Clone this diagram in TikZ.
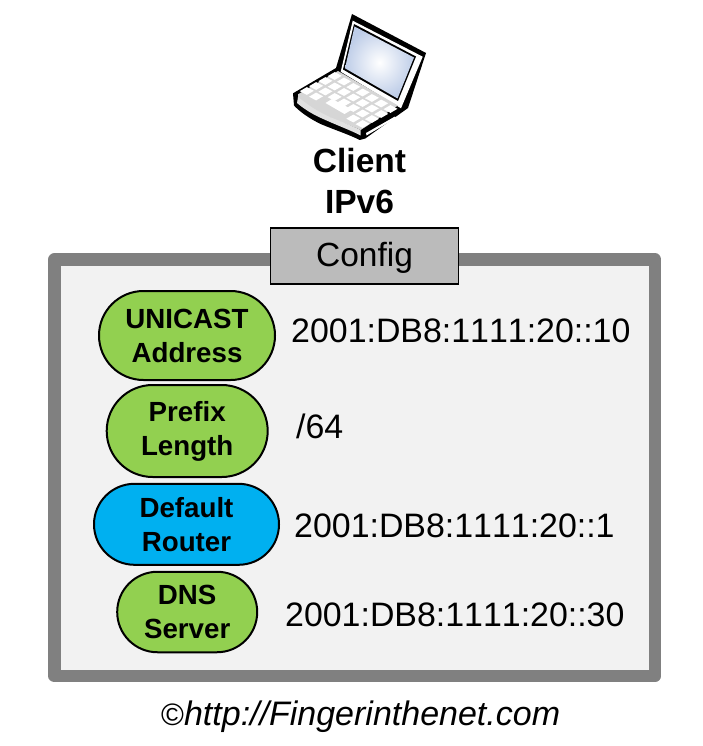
\documentclass[tikz,border=0pt]{standalone}
\usepackage{fontspec}
\setmainfont[Kerning=Off]{Liberation Sans}
\usetikzlibrary{shapes.misc}
\definecolor{framegray}{RGB}{128,128,128}
\definecolor{panelgray}{RGB}{242,242,242}
\definecolor{tabgray}{RGB}{187,187,187}
\definecolor{pillgreen}{RGB}{146,208,80}
\definecolor{pillblue}{RGB}{0,176,240}
\definecolor{screenblue}{RGB}{190,205,232}
\definecolor{deckgray}{RGB}{214,214,214}
\definecolor{lipgray}{RGB}{225,225,225}
\tikzset{
  x=1pt,y=-1pt,
  pill/.style={draw=black,line width=2pt,rounded rectangle,align=center,font=\fontsize{27.7}{34}\selectfont\bfseries,inner sep=0pt},
  val/.style={anchor=base west,font=\fontsize{33.9}{40}\selectfont,inner sep=0pt},
  title/.style={align=center,font=\fontsize{33.5}{41}\selectfont\bfseries,inner sep=0pt},
  keycap/.style={fill=white,draw=none},
}
\begin{document}
\begin{tikzpicture}
\useasboundingbox (0,0) rectangle (702,746);
% frame
\node[draw=framegray,fill=panelgray,line width=12.5pt,line join=round,minimum width=600.5pt,minimum height=416.5pt,inner sep=0pt] (frame) at (354.75,467.75) {};
% tab
\node[draw=black,fill=tabgray,line width=1.5pt,minimum width=188pt,minimum height=56pt,inner sep=0pt,text height=24pt,text depth=3pt,font=\fontsize{33.5}{40}\selectfont] (tab) at (364.5,255.8) {Config};
% laptop: body
\fill[black,line join=round] (352,14) -- (426,53) -- (408,108) -- (365.3,138.5) -- (359.7,140)
  .. controls (350,135) and (335,130) .. (321.3,124.3) .. controls (310,119) and (300,112) .. (294,105.5) -- (293,93.3) -- (336,68) -- cycle;
% lid
\fill[white] (352.7,20.7) -- (422.7,56.7) -- (401,108.3) -- (340.7,71.7) -- cycle;
\fill[black] (354,24) -- (416,56.5) -- (398,101) -- (343,69.5) -- cycle;
\shade[inner color=white,outer color=screenblue] (354.5,26.5) -- (414,57.5) -- (397.5,98.5) -- (345,68.3) -- cycle;
% side strip
\fill[white] (366,133) -- (395,116.5) -- (396,118) -- (366.5,135.5) -- cycle;
% deck
\fill[deckgray] (298,94.3) -- (338,71) -- (398,105.5) -- (360.7,130) .. controls (350,125) and (340,122) .. (331,118) .. controls (318,113) and (308,107) .. (298,99) -- cycle;
% lip
\fill[lipgray] (298,97) .. controls (308,105) and (318,112) .. (331,117.5) .. controls (340,121) and (350,125) .. (360.7,130)
  -- (360.7,135.5) .. controls (350,130) and (335,124.5) .. (321,118) .. controls (310,113) and (303,108) .. (297,103) -- cycle;
% keys
\foreach \a/\b in {0/0,1/0,2/0,3/0,4/0,5/0,6/0,0/1,1/1,2/1,3/1,4/1,5/1,6/1,0/2,1/2,2/2,3/2,4/2,5/2,6/2,0/3,1/3,5/3,6/3}
  \fill[keycap,shift={({334.7+\a*9.3-\b*9.3},{76+\a*5.5+\b*5})}] (0,-3.9) -- (7,-0.2) -- (0,3.9) -- (-7,0.2) -- cycle;
\fill[white] (325.5,103) -- (332,99) -- (352,109.5) -- (344.5,114) -- cycle;
% titles
\node[title] (client) at (359.5,181) {Client\\IPv6};
% pills
\node[pill,fill=pillgreen,minimum width=176pt,minimum height=89pt] (ua) at (187,335.5) {UNICAST\\Address};
\node[pill,fill=pillgreen,minimum width=161pt,minimum height=92pt] (pl) at (187.2,431) {Prefix\\Length};
\node[pill,fill=pillblue,minimum width=185pt,minimum height=81pt] (dr) at (186.5,524.3) {Default\\Router};
\node[pill,fill=pillgreen,minimum width=140pt,minimum height=80.5pt] (dns) at (187.2,612) {DNS\\Server};
% values
\node[val] (v1) at (291,342.5) {2001:DB8:1111:20::10};
\node[val] (v2) at (296,438.5) {/64};
\node[val] (v3) at (294,537.5) {2001:DB8:1111:20::1};
\node[val] (v4) at (285,626.5) {2001:DB8:1111:20::30};
% footer
\node[anchor=base west,inner sep=0pt,font=\fontsize{34}{40}\selectfont\itshape] (url) at (161,725) {{\fontsize{31}{31}\selectfont\upshape ©}http://Fingerinthenet.com};
\end{tikzpicture}
\end{document}
